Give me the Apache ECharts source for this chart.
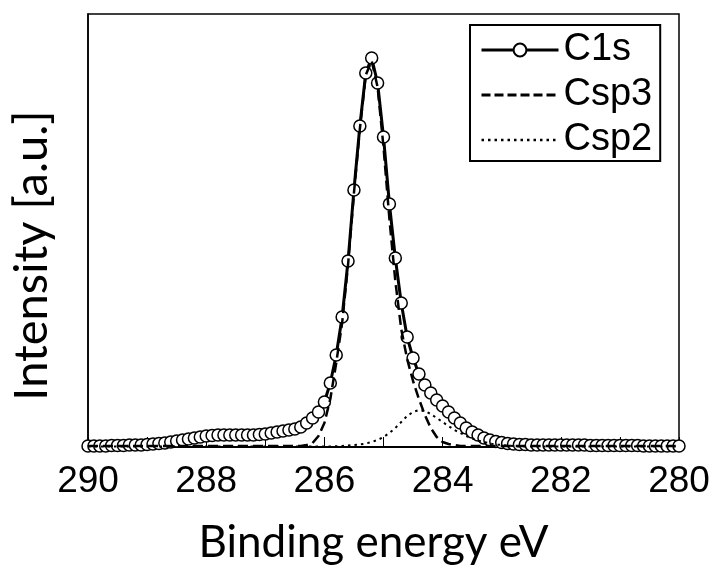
<!DOCTYPE html>
<html>
<head>
<meta charset="utf-8">
<script src="https://cdn.jsdelivr.net/npm/echarts@6/dist/echarts.min.js"></script>
<style>
html,body{margin:0;padding:0;background:#fff;}
#c{width:719px;height:577px;}
</style>
</head>
<body>
<div id="c"></div>
<script>
// Binding energy (eV), 290.0 -> 280.0
var energy = [290.0,289.9,289.8,289.7,289.6,289.5,289.4,289.3,289.2,289.1,
289.0,288.9,288.8,288.7,288.6,288.5,288.4,288.3,288.2,288.1,
288.0,287.9,287.8,287.7,287.6,287.5,287.4,287.3,287.2,287.1,
287.0,286.9,286.8,286.7,286.6,286.5,286.4,286.3,286.2,286.1,
286.0,285.9,285.8,285.7,285.6,285.5,285.4,285.3,285.2,285.1,
285.0,284.9,284.8,284.7,284.6,284.5,284.4,284.3,284.2,284.1,
284.0,283.9,283.8,283.7,283.6,283.5,283.4,283.3,283.2,283.1,
283.0,282.9,282.8,282.7,282.6,282.5,282.4,282.3,282.2,282.1,
282.0,281.9,281.8,281.7,281.6,281.5,281.4,281.3,281.2,281.1,
281.0,280.9,280.8,280.7,280.6,280.5,280.4,280.3,280.2,280.1,
280.0];

var c1s = [1,1,1,1,1.5,1.5,1.5,2,2,2,
2.5,3,3.5,4,5,6,7,8,9,10,
11,11.5,12,12,12,12,12,12,12,12.5,
13,14,15,16,17,18,20,24,29,35,
45,64,92,130,186,257,321,374,389,364,
310,243,189,144,110,89,73,62,54,47,
41,35,29,24,19,15,12,9,7,5.5,
4.5,3.5,3,2.5,2.5,2,2,2,2,2,
2,2,2,2,2,1.5,1.5,1.5,1.5,1.5,
1.5,1.5,1.5,1.5,1,1,1,1,1,1,
1];

var csp3 = [1,1,1,1,1,1,1,1,1,1,
1,1,1,1,1,1,1,1,1,1,
1,1,1,1,1,1,1,1,1,1,
1,1,1,1,1,1,1,2,4,11,
24,48,84,124,182,254,318,372,386,360,
300,228,166,118,88,66,48,32,19,10,
5,3,2,1,1,1,1,1,1,1,
1,1,1,1,1,1,1,1,1,1,
1,1,1,1,1,1,1,1,1,1,
1,1,1,1,1,1,1,1,1,1,
1];

var csp2 = [0.5,0.5,0.5,0.5,0.5,0.5,0.5,0.5,0.5,0.5,
0.5,0.5,0.5,0.5,0.5,0.5,0.5,0.5,0.5,0.5,
0.5,0.5,0.5,0.5,0.5,0.5,0.5,0.5,0.5,0.5,
0.5,0.5,0.5,0.5,0.5,0.5,0.5,0.5,0.5,0.5,
0.5,0.5,0.8,1,1.5,2,2.5,3.5,5,7,
10,14,19,25,31,35,37,36,33,29,
25,21,17,14,11,8.5,6.5,5,3.5,2.5,
2,1.5,1,0.5,0.5,0.5,0.5,0.5,0.5,0.5,
0.5,0.5,0.5,0.5,0.5,0.5,0.5,0.5,0.5,0.5,
0.5,0.5,0.5,0.5,0.5,0.5,0.5,0.5,0.5,0.5,
0.5];

var seriesNames = ['C1s','Csp3','Csp2'];
var xLabelValues = [290,288,286,284,282,280];

function pairs(vals){
  var out = [];
  for (var i = 0; i < energy.length; i++) out.push([energy[i], vals[i]]);
  return out;
}

var hiddenSym = {color:'rgba(0,0,0,0)', borderColor:'rgba(0,0,0,0)', borderWidth:0};

var chart = echarts.init(document.getElementById('c'), null, {renderer:'canvas'});
chart.setOption({
  animation:false,
  backgroundColor:'#ffffff',
  grid:{left:86,right:40,top:14,bottom:130,show:true,borderColor:'#000',borderWidth:1.5,backgroundColor:'transparent'},
  legend:{
    orient:'vertical', left:470, top:25,
    data:[
      {name:seriesNames[0], lineStyle:{width:3, color:'#000'}},
      {name:seriesNames[1], itemStyle:hiddenSym, lineStyle:{width:3, color:'#000', type:[9,4]}},
      {name:seriesNames[2], itemStyle:hiddenSym, lineStyle:{width:2.5, color:'#000', type:[2.5,4]}}
    ],
    itemWidth:77, itemHeight:16, itemGap:5, itemTextGap:2,
    padding:[5,8,1,10],
    borderColor:'#000', borderWidth:2, backgroundColor:'#fff',
    textStyle:{fontFamily:'Liberation Sans, Arial, sans-serif', fontSize:38, color:'#000', lineHeight:40}
  },
  xAxis:{
    type:'value', min:280, max:290, interval:1, inverse:true,
    name:'Binding energy eV', nameLocation:'middle', nameGap:74,
    nameTextStyle:{fontFamily:'Lato, sans-serif', fontSize:44, color:'#000', padding:[0,20,0,0]},
    axisLine:{show:true, lineStyle:{color:'#000', width:2}},
    axisTick:{show:true, inside:true, length:10, lineStyle:{color:'#000', width:1}},
    axisLabel:{margin:16, color:'#000', fontFamily:'Liberation Sans, Arial, sans-serif', fontSize:37,
      formatter:function(v){ return xLabelValues.indexOf(Math.round(v)) >= 0 && Math.abs(v - Math.round(v)) < 1e-6 ? String(Math.round(v)) : ''; }},
    splitLine:{show:false}
  },
  yAxis:{
    type:'value', min:0, max:433,
    name:'Intensity [a.u.]', nameLocation:'middle', nameGap:33,
    nameTextStyle:{fontFamily:'Lato, sans-serif', fontSize:47, color:'#000', padding:[0,50,0,0]},
    axisLine:{show:true, lineStyle:{color:'#000', width:1.5}},
    axisTick:{show:false}, axisLabel:{show:false}, splitLine:{show:false}
  },
  series:[
    {name:'C1s', type:'line', data:pairs(c1s), showAllSymbol:true, symbol:'circle', symbolSize:12,
     lineStyle:{color:'#000', width:3}, itemStyle:{color:'#fff', borderColor:'#000', borderWidth:1.5}, z:2},
    {name:'Csp3', type:'line', data:pairs(csp3), showSymbol:false, symbol:'none',
     lineStyle:{color:'#000', width:2.5, type:[10,5]}, itemStyle:{color:'#000'}, z:3},
    {name:'Csp2', type:'line', data:pairs(csp2), showSymbol:false, symbol:'none',
     lineStyle:{color:'#000', width:2, type:[2.5,4]}, itemStyle:{color:'#000'}, z:3}
  ]
});
</script>
</body>
</html>
